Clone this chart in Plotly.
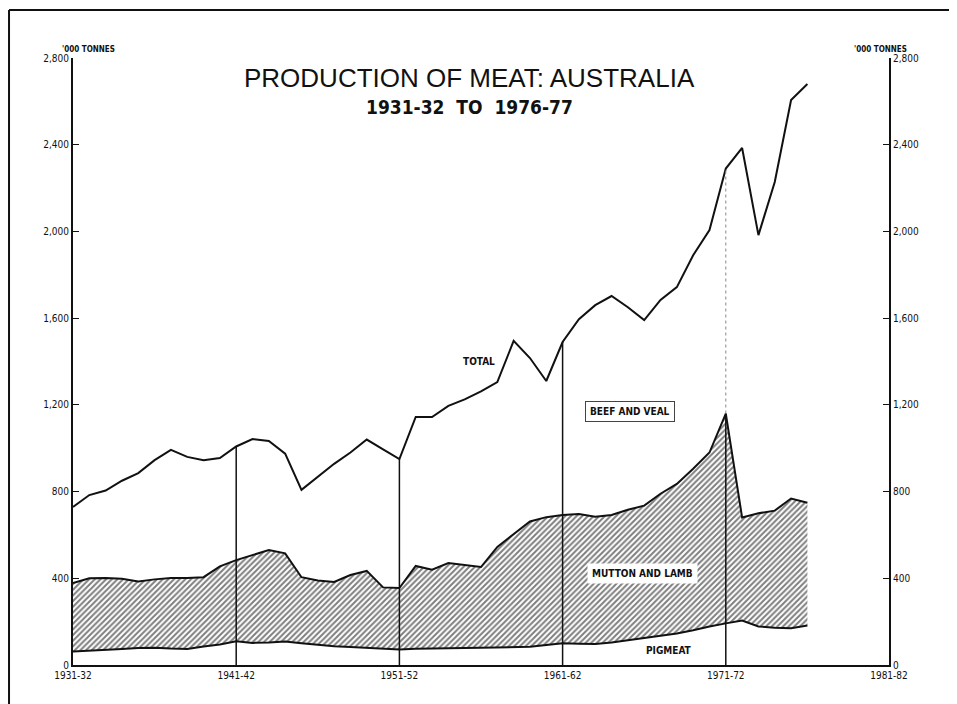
"""Production of meat, Australia, 1931-32 to 1976-77 (stacked area + total line)."""

import plotly.graph_objects as go

# Season start years (1931 -> "1931-32") on the horizontal axis
years = list(range(1931, 1977))

# '000 tonnes
pigmeat = [
    62, 65, 68, 74, 78, 80, 76, 74, 85, 95,
    110, 102, 104, 108, 100, 92, 87, 83, 80, 76,
    72, 75, 77, 78, 78, 79, 80, 81, 84, 92,
    100, 98, 97, 104, 115, 125, 135, 145, 160, 178,
    192, 205, 178, 172, 170, 182,
]
mutton_lamb = [
    316, 335, 333, 324, 307, 315, 325, 327, 320, 360,
    374, 405, 426, 407, 305, 298, 296, 332, 354, 282,
    283, 382, 363, 392, 384, 373, 465, 524, 578, 590,
    592, 598, 587, 588, 601, 610, 655, 690, 745, 802,
    968, 475, 522, 540, 598, 566,
]
total = [
    729, 784, 805, 850, 885, 945, 992, 960, 945, 955,
    1008, 1042, 1033, 975, 808, 868, 928, 980, 1040, 995,
    950, 1144, 1144, 1195, 1225, 1262, 1305, 1495, 1416, 1310,
    1490, 1595, 1660, 1702, 1650, 1591, 1684, 1743, 1890, 2006,
    2290, 2385, 1983, 2228, 2606, 2680,
]

y_ticks = [0, 400, 800, 1200, 1600, 2000, 2400, 2800]
y_tick_text = ["0", "400", "800", "1,200", "1,600", "2,000", "2,400", "2,800"]
x_ticks = [1931, 1941, 1951, 1961, 1971, 1981]
x_tick_text = ["1931-32", "1941-42", "1951-52", "1961-62", "1971-72", "1981-82"]
decade_marks = [1941, 1951, 1961, 1971]

NARROW = "Liberation Sans Narrow, Arial Narrow, DejaVu Sans Condensed, sans-serif"
PLAIN = "Liberation Sans, Arial, sans-serif"
INK = "#111111"

fig = go.Figure()

fig.add_trace(go.Scatter(
    x=years, y=pigmeat, name="Pigmeat", mode="lines", stackgroup="meat",
    line={"color": INK, "width": 2}, fillcolor="rgba(255,255,255,0)",
))
fig.add_trace(go.Scatter(
    x=years, y=mutton_lamb, name="Mutton and lamb", mode="lines", stackgroup="meat",
    line={"color": INK, "width": 2}, fillcolor="white",
    fillpattern={"shape": "/", "size": 4, "solidity": 0.5,
                 "fgcolor": "black", "bgcolor": "white"},
))
fig.add_trace(go.Scatter(
    x=years, y=total, name="Total", mode="lines",
    line={"color": INK, "width": 2},
))
# invisible copy so the right-hand axis is drawn
fig.add_trace(go.Scatter(
    x=years, y=total, yaxis="y2", mode="lines", showlegend=False,
    line={"width": 0}, hoverinfo="skip",
))

# vertical decade rules, up to the total line (1971-72 solid only through the hatch)
for yr in decade_marks:
    i = years.index(yr)
    top_hatch = pigmeat[i] + mutton_lamb[i]
    if yr == 1971:
        fig.add_shape(type="line", x0=yr, x1=yr, y0=0, y1=top_hatch,
                      line={"color": INK, "width": 1.5})
        fig.add_shape(type="line", x0=yr, x1=yr, y0=top_hatch, y1=total[i],
                      line={"color": "#888888", "width": 1, "dash": "dot"})
    else:
        fig.add_shape(type="line", x0=yr, x1=yr, y0=0, y1=total[i],
                      line={"color": INK, "width": 1.5})

# page frame (left and top edges)
fig.add_shape(type="line", xref="paper", yref="paper", x0=-0.0784, x1=-0.0784,
              y0=-0.08, y1=1.079, line={"color": INK, "width": 2})
fig.add_shape(type="line", xref="paper", yref="paper", x0=-0.0784, x1=1.10,
              y0=1.079, y1=1.079, line={"color": INK, "width": 2})

label_font = {"family": NARROW, "size": 10, "color": INK}
fig.add_annotation(x=1955.9, y=1402, text="<b>TOTAL</b>", showarrow=False, font=label_font)
fig.add_annotation(x=1965.1, y=1170, text="<b>BEEF AND VEAL</b>", showarrow=False,
                   font=label_font, bgcolor="white", bordercolor="#444444",
                   borderwidth=1, borderpad=4)
fig.add_annotation(x=1965.9, y=420, text="<b>MUTTON AND LAMB</b>", showarrow=False,
                   font=label_font, bgcolor="white", borderpad=4)
fig.add_annotation(x=1967.5, y=69, text="<b>PIGMEAT</b>", showarrow=False, font=label_font)

fig.add_annotation(xref="paper", yref="paper", x=0.4865, y=0.995,
                   text="PRODUCTION OF MEAT: AUSTRALIA", showarrow=False,
                   font={"family": PLAIN, "size": 26, "color": INK})
fig.add_annotation(xref="paper", yref="paper", x=0.486, y=0.940,
                   text="<b>1931-32  TO  1976-77</b>", showarrow=False,
                   font={"family": NARROW, "size": 19, "color": INK})
units_font = {"family": NARROW, "size": 8, "color": INK}
fig.add_annotation(xref="paper", yref="paper", x=-0.016, y=1.025,
                   text="<b>'000 TONNES</b>", showarrow=False, font=units_font)
fig.add_annotation(xref="paper", yref="paper", x=1.025, y=1.025,
                   text="<b>'000 TONNES</b>", showarrow=False, font=units_font)

tick_font = {"family": NARROW, "size": 10, "color": INK}
axis_common = dict(
    range=[0, 2800], tickvals=y_ticks, ticktext=y_tick_text, showgrid=False,
    zeroline=False, showline=True, linecolor=INK, linewidth=2,
    ticks="inside", ticklen=6, tickcolor=INK, tickfont=tick_font,
)

# page body adds 8 px on the left/top, so the margins are offset by that
fig.update_layout(
    width=957, height=704,
    margin={"l": 65, "r": 76, "t": 50, "b": 47},
    paper_bgcolor="white", plot_bgcolor="white",
    showlegend=False,
    xaxis=dict(
        range=[1931, 1981], tickvals=x_ticks, ticktext=x_tick_text,
        showgrid=False, zeroline=False, showline=True, linecolor=INK,
        linewidth=2, ticks="", tickfont={"family": NARROW, "size": 10, "color": INK},
    ),
    yaxis=dict(side="left", **axis_common),
    yaxis2=dict(side="right", overlaying="y", **axis_common),
)

fig.write_html("out.html")
